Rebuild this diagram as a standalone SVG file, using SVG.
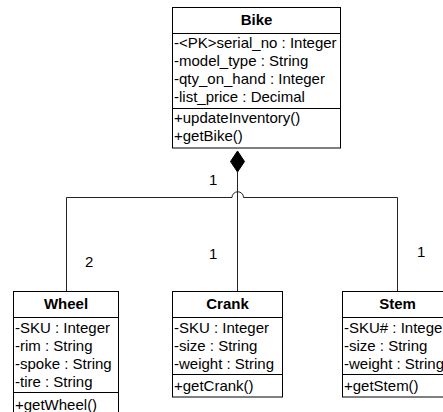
<svg xmlns="http://www.w3.org/2000/svg" width="443" height="412" viewBox="0 0 443 412">
<style>
.box{fill:#fff;stroke:#000;stroke-width:1}
.sep{stroke:#000;stroke-width:1}
.t{font-family:"Liberation Sans",Arial,sans-serif;font-size:15px;fill:#000}
.h{font-family:"Liberation Sans",Arial,sans-serif;font-size:15px;font-weight:bold;fill:#000;text-anchor:middle}
.ln{fill:none;stroke:#222;stroke-width:1}
</style>
<rect width="443" height="412" fill="#fff"/>
<g id="connectors">
<path class="ln" d="M66.5,291 V197.5 H232 A5.75,5.75 0 0 1 243.5,197.5 H397.5 V291"/>
<path class="ln" d="M237.5,172 V291"/>
<polygon points="237.5,151 244.5,161.5 237.5,172 230.5,161.5" fill="#000" stroke="#000" stroke-width="1"/>
<text class="t" x="209" y="185">1</text>
<text class="t" x="209" y="259">1</text>
<text class="t" x="85" y="267">2</text>
<text class="t" x="417" y="257">1</text>
</g>
<g id="bike">
<rect class="box" x="172.5" y="7.5" width="168" height="140.5"/>
<line class="sep" x1="172.5" y1="33.5" x2="340.5" y2="33.5"/>
<line class="sep" x1="172.5" y1="108.5" x2="340.5" y2="108.5"/>
<text class="h" x="256.5" y="25">Bike</text>
<text class="t" x="174" y="48">-&lt;PK&gt;serial_no : Integer</text>
<text class="t" x="174" y="66">-model_type : String</text>
<text class="t" x="174" y="84">-qty_on_hand : Integer</text>
<text class="t" x="174" y="102">-list_price : Decimal</text>
<text class="t" x="174" y="123">+updateInventory()</text>
<text class="t" x="174" y="141">+getBike()</text>
</g>
<g id="wheel">
<rect class="box" x="13.5" y="291.5" width="105" height="130"/>
<line class="sep" x1="13.5" y1="317.5" x2="118.5" y2="317.5"/>
<line class="sep" x1="13.5" y1="392.5" x2="118.5" y2="392.5"/>
<text class="h" x="66" y="309">Wheel</text>
<text class="t" x="15" y="333">-SKU : Integer</text>
<text class="t" x="15" y="351">-rim : String</text>
<text class="t" x="15" y="369">-spoke : String</text>
<text class="t" x="15" y="387">-tire : String</text>
<text class="t" x="15" y="410">+getWheel()</text>
</g>
<g id="crank">
<rect class="box" x="172.5" y="291.5" width="110" height="105.5"/>
<line class="sep" x1="172.5" y1="317.5" x2="282.5" y2="317.5"/>
<line class="sep" x1="172.5" y1="374.5" x2="282.5" y2="374.5"/>
<text class="h" x="227.5" y="309">Crank</text>
<text class="t" x="174" y="333">-SKU : Integer</text>
<text class="t" x="174" y="351">-size : String</text>
<text class="t" x="174" y="369">-weight : String</text>
<text class="t" x="174" y="391">+getCrank()</text>
</g>
<g id="stem">
<rect class="box" x="342.5" y="291.5" width="110" height="105.5"/>
<line class="sep" x1="342.5" y1="317.5" x2="452.5" y2="317.5"/>
<line class="sep" x1="342.5" y1="374.5" x2="452.5" y2="374.5"/>
<text class="h" x="397.5" y="309">Stem</text>
<text class="t" x="344" y="333">-SKU# : Integer</text>
<text class="t" x="344" y="351">-size : String</text>
<text class="t" x="344" y="369">-weight : String</text>
<text class="t" x="344" y="391">+getStem()</text>
</g>
</svg>
